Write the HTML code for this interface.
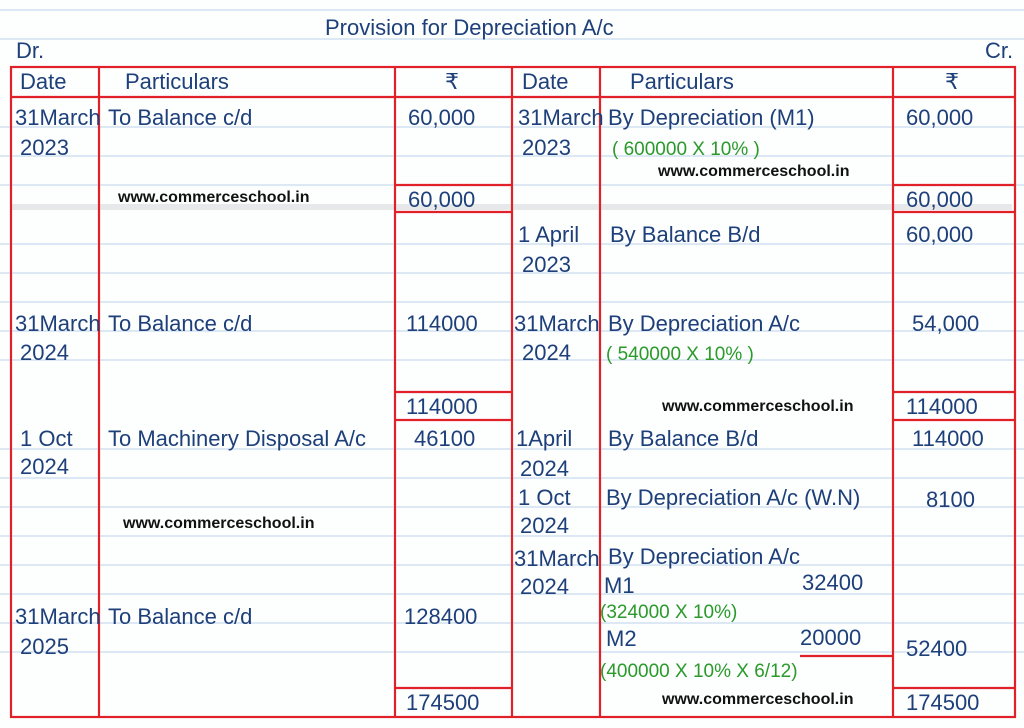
<!DOCTYPE html>
<html><head><meta charset="utf-8"><style>
html,body{margin:0;padding:0;background:#fff;}
svg{display:block}
.h{font-family:"Liberation Sans",sans-serif;fill:#1d3f7a;font-size:22px}
.g{font-family:"Liberation Sans",sans-serif;fill:#2a9a2a;font-size:19px}
.w{font-family:"Liberation Sans",sans-serif;font-weight:bold;fill:#111;font-size:16px}
</style></head><body>
<svg width="1024" height="728" xmlns="http://www.w3.org/2000/svg">
<rect width="1024" height="728" fill="#fdfefe"/>
<g stroke="#c9dcef" stroke-width="1.3">
<line x1="0" y1="10" x2="1024" y2="10"/><line x1="0" y1="39" x2="1024" y2="39"/>
<line x1="0" y1="127" x2="1024" y2="127"/><line x1="0" y1="156" x2="1024" y2="156"/>
<line x1="0" y1="185" x2="1024" y2="185"/><line x1="0" y1="244" x2="1024" y2="244"/>
<line x1="0" y1="273" x2="1024" y2="273"/><line x1="0" y1="302" x2="1024" y2="302"/>
<line x1="0" y1="331" x2="1024" y2="331"/><line x1="0" y1="360" x2="1024" y2="360"/>
<line x1="0" y1="449" x2="1024" y2="449"/><line x1="0" y1="478" x2="1024" y2="478"/>
<line x1="0" y1="507" x2="1024" y2="507"/><line x1="0" y1="536" x2="1024" y2="536"/>
<line x1="0" y1="565" x2="1024" y2="565"/><line x1="0" y1="594" x2="1024" y2="594"/>
<line x1="0" y1="623" x2="1024" y2="623"/><line x1="0" y1="652" x2="1024" y2="652"/>
</g>
<rect x="12" y="204" width="1000" height="6" fill="#e6e8ea"/>
<text x="325" y="35" class="h" font-size="26">Provision for Depreciation A/c</text>
<text x="16" y="58" class="h" font-size="16">Dr.</text>
<text x="985" y="58" class="h" font-size="16">Cr.</text>
<g stroke="#e0212a" stroke-width="2.2" fill="none">
<rect x="11" y="67" width="1004" height="650"/>
<line x1="11" y1="97" x2="1015" y2="97"/>
<line x1="99" y1="67" x2="99" y2="717"/><line x1="395" y1="67" x2="395" y2="717"/>
<line x1="512" y1="67" x2="512" y2="717"/><line x1="600" y1="67" x2="600" y2="717"/>
<line x1="893" y1="67" x2="893" y2="717"/>
<line x1="395" y1="185" x2="512" y2="185"/><line x1="395" y1="212" x2="512" y2="212"/>
<line x1="893" y1="185" x2="1015" y2="185"/><line x1="893" y1="212" x2="1015" y2="212"/>
<line x1="395" y1="392" x2="512" y2="392"/><line x1="395" y1="420" x2="512" y2="420"/>
<line x1="893" y1="392" x2="1015" y2="392"/><line x1="893" y1="420" x2="1015" y2="420"/>
<line x1="395" y1="688" x2="512" y2="688"/><line x1="893" y1="688" x2="1015" y2="688"/>
<line x1="800" y1="656" x2="893" y2="656"/>
</g>
<text x="20" y="89" class="h" font-size="19">Date</text>
<text x="125" y="89" class="h">Particulars</text>
<text x="445" y="89" class="h" font-size="19">₹</text>
<text x="522" y="89" class="h" font-size="19">Date</text>
<text x="630" y="89" class="h">Particulars</text>
<text x="945" y="89" class="h" font-size="19">₹</text>
<text x="15" y="125" class="h" font-size="19">31March</text><text x="20" y="155" class="h">2023</text>
<text x="108" y="125" class="h">To Balance c/d</text>
<text x="408" y="125" class="h">60,000</text>
<text x="518" y="125" class="h" font-size="19">31March</text><text x="522" y="155" class="h">2023</text>
<text x="608" y="125" class="h">By Depreciation (M1)</text>
<text x="906" y="125" class="h">60,000</text>
<text x="612" y="155" class="g">( 600000 X 10% )</text>
<text x="658" y="176" class="w">www.commerceschool.in</text>
<text x="118" y="202" class="w">www.commerceschool.in</text>
<text x="408" y="207" class="h">60,000</text><text x="906" y="207" class="h">60,000</text>
<text x="518" y="242" class="h" font-size="19">1 April</text><text x="522" y="272" class="h">2023</text>
<text x="610" y="242" class="h">By Balance B/d</text><text x="906" y="242" class="h">60,000</text>
<text x="15" y="331" class="h" font-size="19">31March</text><text x="20" y="360" class="h">2024</text>
<text x="108" y="331" class="h">To Balance c/d</text><text x="406" y="331" class="h">114000</text>
<text x="514" y="331" class="h" font-size="19">31March</text><text x="522" y="360" class="h">2024</text>
<text x="608" y="331" class="h">By Depreciation A/c</text><text x="912" y="331" class="h">54,000</text>
<text x="606" y="360" class="g">( 540000 X 10% )</text>
<text x="662" y="411" class="w">www.commerceschool.in</text>
<text x="406" y="414" class="h">114000</text><text x="906" y="414" class="h">114000</text>
<text x="20" y="446" class="h">1 Oct</text><text x="20" y="474" class="h">2024</text>
<text x="108" y="446" class="h" font-size="20">To Machinery Disposal A/c</text>
<text x="414" y="446" class="h">46100</text>
<text x="516" y="446" class="h" font-size="19">1April</text><text x="520" y="476" class="h">2024</text>
<text x="608" y="446" class="h">By Balance B/d</text><text x="912" y="446" class="h">114000</text>
<text x="518" y="505" class="h">1 Oct</text><text x="520" y="533" class="h">2024</text>
<text x="606" y="505" class="h" font-size="19">By Depreciation A/c (W.N)</text><text x="926" y="507" class="h">8100</text>
<text x="123" y="528" class="w">www.commerceschool.in</text>
<text x="514" y="566" class="h" font-size="19">31March</text><text x="520" y="594" class="h">2024</text>
<text x="608" y="564" class="h">By Depreciation A/c</text>
<text x="604" y="593" class="h" font-size="20">M1</text><text x="802" y="590" class="h">32400</text>
<text x="600" y="618" class="g">(324000 X 10%)</text>
<text x="15" y="624" class="h" font-size="19">31March</text><text x="20" y="654" class="h">2025</text>
<text x="108" y="624" class="h">To Balance c/d</text><text x="404" y="624" class="h">128400</text>
<text x="606" y="646" class="h" font-size="20">M2</text><text x="800" y="645" class="h">20000</text>
<text x="906" y="656" class="h">52400</text>
<text x="600" y="677" class="g">(400000 X 10% X 6/12)</text>
<text x="662" y="704" class="w">www.commerceschool.in</text>
<text x="406" y="710" class="h">174500</text><text x="906" y="710" class="h">174500</text>
</svg>
</body></html>
